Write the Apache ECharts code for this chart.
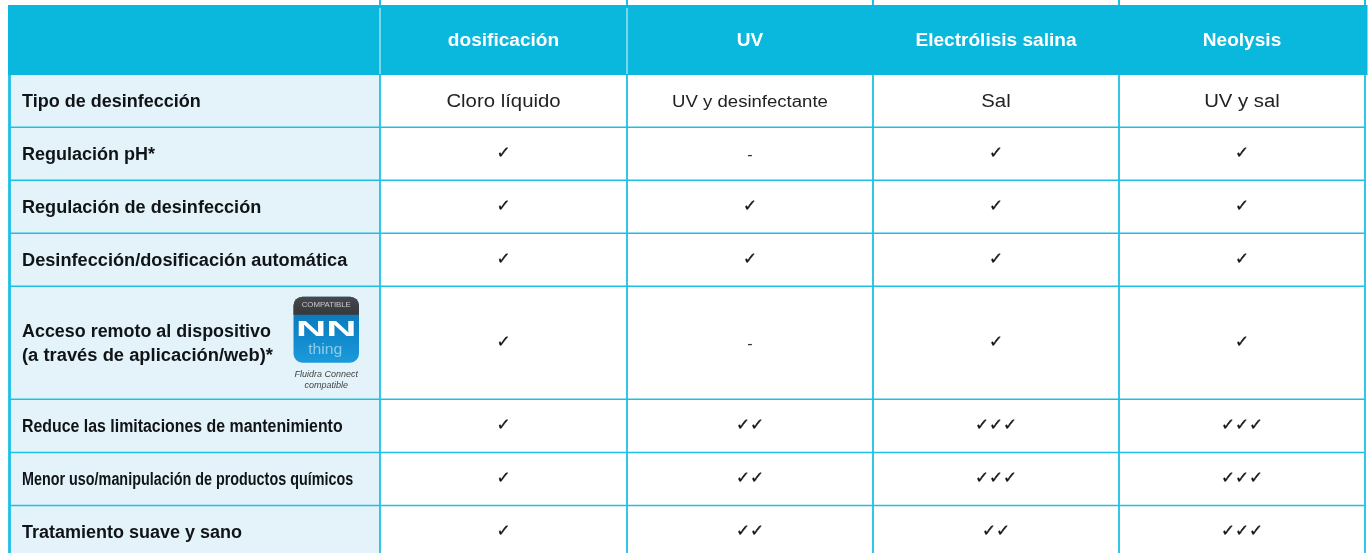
<!DOCTYPE html>
<html><head><meta charset="utf-8">
<style>html,body{margin:0;padding:0;background:#fff}#c{width:1370px;height:553px}</style>
<script src="https://cdn.jsdelivr.net/npm/echarts@6/dist/echarts.min.js"></script>
</head><body><div id="c"></div>
<script>
// ---- content ----
var columns = ['dosificación', 'UV', 'Electrólisis salina', 'Neolysis'];
var rowLabels = ['Tipo de desinfección', 'Regulación pH*', 'Regulación de desinfección',
  'Desinfección/dosificación automática', 'Acceso remoto al dispositivo\n(a través de aplicación/web)*',
  'Reduce las limitaciones de mantenimiento', 'Menor uso/manipulación de productos químicos',
  'Tratamiento suave y sano'];
var disinfectionType = ['Cloro líquido', 'UV y desinfectante', 'Sal', 'UV y sal'];
// number of check marks per feature row (rows 2-8); 0 is shown as "-"
var dosificacionMarks = [1, 1, 1, 1, 1, 1, 1];
var uvMarks = [0, 1, 1, 0, 2, 2, 2];
var electrolisisMarks = [1, 1, 1, 1, 3, 3, 2];
var neolysisMarks = [1, 1, 1, 1, 3, 3, 3];
var iconCaption = ['Fluidra Connect', 'compatible'];

// ---- table layout (axis units) ----
var columnEdges = [9.5, 380, 627, 873, 1119, 1365];
var rowEdges = [75, 127.3, 180.3, 233.3, 286.3, 399.3, 452.5, 505.5, 558.5];
var headerTop = 5, headerBottom = 75;
var labelWidthScale = [1, 1, 1.005, 1.01, 1, 0.883, 0.798, 1];

var BLUE = '#0ab8de', LINE = '#1cc0e6', PALE = '#e3f3f9', INK = '#111417';
var FF = '"Liberation Sans"';

var markRows = [dosificacionMarks, uvMarks, electrolisisMarks, neolysisMarks];
var cellData = [];
rowLabels.forEach(function (_, r) {
  columns.forEach(function (_, c) {
    var v = r === 0 ? disinfectionType[c] : markRows[c][r - 1];
    cellData.push([c, r, v]);
  });
});

function txt(x, y, text, font, fill, sx, align, extra) {
  var st = { x: 0, y: 0, text: text, font: font, fill: fill,
      align: align || 'center', verticalAlign: 'middle' };
  if (extra) { st.stroke = extra.stroke; st.lineWidth = extra.lineWidth; }
  return { type: 'text', x: x, y: y, scaleX: sx || 1, style: st };
}
function P(api, x, y) { return api.coord([x, y]); }

var option = {
  animation: false,
  backgroundColor: '#fff',
  grid: { left: 0, right: 0, top: 0, bottom: 0 },
  xAxis: { type: 'value', min: 0, max: 1370, show: false },
  yAxis: { type: 'value', min: 0, max: 553, inverse: true, show: false },
  series: [
    { // backgrounds + row labels
      type: 'custom', silent: true, clip: true, z: 1,
      data: rowLabels.map(function (l, i) { return [i, l]; }),
      renderItem: function (p, api) {
        var r = api.value(0), label = rowLabels[r], ch = [];
        var a = P(api, columnEdges[0], rowEdges[r]), b = P(api, columnEdges[1], rowEdges[r + 1]);
        ch.push({ type: 'rect', shape: { x: a[0], y: a[1], width: b[0] - a[0], height: b[1] - a[1] },
          style: { fill: PALE } });
        var cy = (a[1] + b[1]) / 2 + 1, lx = P(api, 22, 0)[0];
        if (r === 4) {
          var parts = label.split('\n');
          ch.push(txt(lx, cy - 11.5, parts[0], 'bold 18px ' + FF, INK, 0.995, 'left'));
          ch.push(txt(lx, cy + 12, parts[1], 'bold 18px ' + FF, INK, 1.02, 'left'));
        } else {
          ch.push(txt(lx, cy, label, 'bold 18px ' + FF, INK, labelWidthScale[r], 'left'));
        }
        return { type: 'group', children: ch };
      }
    },
    { // header band and column titles
      type: 'custom', silent: true, z: 3,
      data: [[0]],
      renderItem: function (p, api) {
        var a = P(api, columnEdges[0] - 1.5, headerTop), b = P(api, columnEdges[5] + 2.5, headerBottom);
        var ch = [{ type: 'rect', shape: { x: a[0], y: a[1], width: b[0] - a[0], height: b[1] - a[1] }, style: { fill: BLUE } }];
        columns.forEach(function (t, c) {
          var cx = (columnEdges[c + 1] + columnEdges[c + 2]) / 2;
          var q = P(api, cx, (headerTop + headerBottom) / 2 + 1);
          ch.push(txt(q[0], q[1], t, 'bold 18px ' + FF, '#fff', 1.06));
        });
        [1, 2].forEach(function (i) {
          var s = P(api, columnEdges[i], headerTop + 3), e = P(api, columnEdges[i], headerBottom - 1);
          ch.push({ type: 'line', shape: { x1: s[0], y1: s[1], x2: e[0], y2: e[1] },
            style: { stroke: '#e4f6fb', lineWidth: 1 } });
        });
        return { type: 'group', children: ch };
      }
    },
    { // body cells
      type: 'custom', silent: true, z: 4,
      data: cellData,
      encode: { x: 0, y: 1 },
      renderItem: function (p, api) {
        var c = api.value(0), r = api.value(1), v = cellData[p.dataIndex][2];
        var cx = (columnEdges[c + 1] + columnEdges[c + 2]) / 2, cy = (rowEdges[r] + rowEdges[r + 1]) / 2;
        var q = P(api, cx, cy);
        if (r === 0) {
          return c === 1 ? txt(q[0], q[1] + 1, v, '16px ' + FF, '#222', 1.16)
                         : txt(q[0], q[1] + 1, v, '18px ' + FF, '#222', 1.13);
        }
        if (v === 0) return txt(q[0], q[1] + 2, '-', '16px ' + FF, '#333');
        return txt(q[0], q[1], new Array(v + 1).join('\u2713'), '16px "DejaVu Sans"', INK, 1.05,
          'center', { stroke: INK, lineWidth: 0.35 });
      }
    },
    { // grid lines
      type: 'custom', silent: true, z: 5,
      data: [[0]],
      renderItem: function (p, api) {
        var ch = [];
        function seg(x1, y1, x2, y2, w, col) {
          var a = P(api, x1, y1), b = P(api, x2, y2);
          ch.push({ type: 'line', shape: { x1: a[0], y1: a[1], x2: b[0], y2: b[1] }, style: { stroke: col || LINE, lineWidth: w } });
        }
        var bottom = rowEdges[rowEdges.length - 1];
        rowEdges.slice(1, -1).forEach(function (y) { seg(columnEdges[0], y, columnEdges[5], y, 1.6); });
        columnEdges.forEach(function (x, i) {
          seg(x, headerBottom, x, bottom, i === 0 ? 2.8 : 1.8);
          if (i > 0) seg(x, 0, x, headerTop, 2);
        });
        return { type: 'group', children: ch };
      }
    },
    { // app badge beside the remote-access row
      type: 'custom', silent: true, z: 6,
      data: [[293.5, 296.7, 359, 362.7]],
      renderItem: function (p, api) {
        var a = api.coord([api.value(0), api.value(1)]), b = api.coord([api.value(2), api.value(3)]);
        var w = b[0] - a[0], h = b[1] - a[1], cx = (a[0] + b[0]) / 2;
        var ch = [
          { type: 'rect', shape: { x: a[0], y: a[1], width: w, height: h, r: 9 },
            style: { fill: { type: 'linear', x: 0, y: 0, x2: 0, y2: 1, colorStops: [
              { offset: 0, color: '#0b6fae' }, { offset: 0.55, color: '#0f86c9' }, { offset: 1, color: '#1c9bdc' }] } } },
          { type: 'rect', shape: { x: a[0], y: a[1], width: w, height: 18, r: [9, 9, 0, 0] },
            style: { fill: { type: 'linear', x: 0, y: 0, x2: 0, y2: 1, colorStops: [
              { offset: 0, color: '#46484b' }, { offset: 1, color: '#36383b' }] } } },
          txt(cx, a[1] + 9, 'COMPATIBLE', '6.5px ' + FF, '#c9cccf', 1.2),
          txt(cx, a[1] + 33, 'NN', 'bold 22px ' + FF, '#fff', 1.9),
          txt(cx - 1, a[1] + 53.5, 'thing', '15px ' + FF, '#8fcbe9', 1.05),
          txt(cx, b[1] + 11.5, iconCaption[0], 'italic 9px ' + FF, '#444'),
          txt(cx, b[1] + 22.5, iconCaption[1], 'italic 9px ' + FF, '#444')
        ];
        return { type: 'group', children: ch };
      }
    }
  ]
};
var chart = echarts.init(document.getElementById('c'), null, { renderer: 'canvas' });
chart.setOption(option);
</script></body></html>
